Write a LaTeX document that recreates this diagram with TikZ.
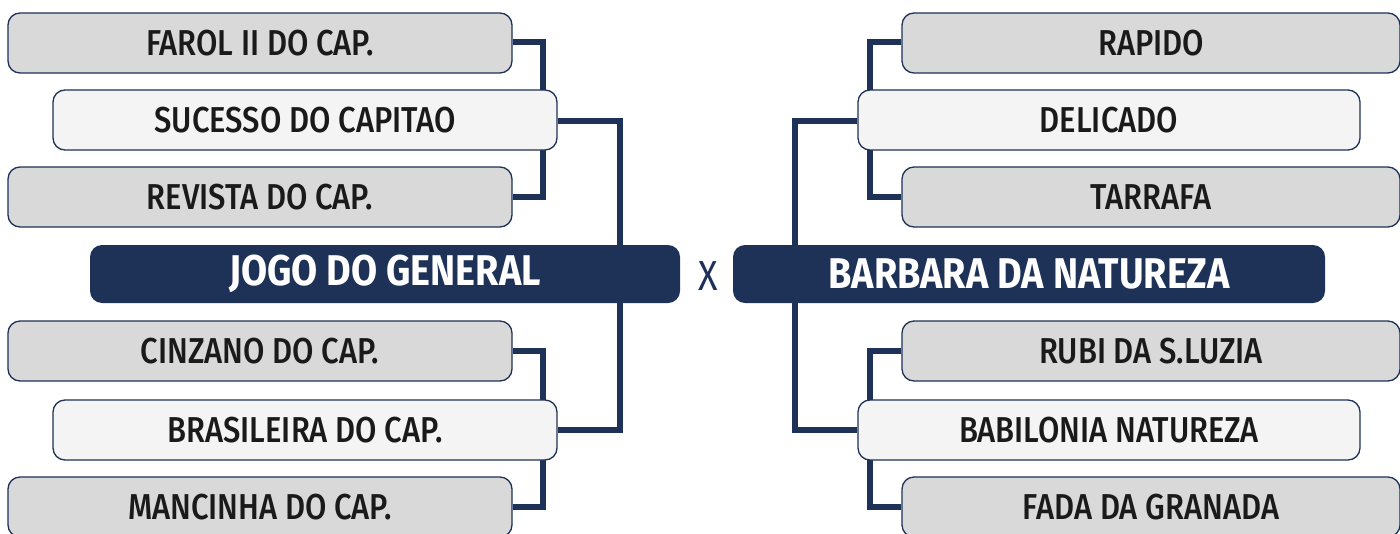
\documentclass[tikz,border=0pt]{standalone}
\usepackage{fontspec}
\usetikzlibrary{backgrounds}
\setmainfont{Fira Sans}[FakeStretch=0.86]
\newfontfamily\medfont{Fira Sans Medium}[FakeStretch=0.86]
\newfontfamily\boldfont{Fira Sans}[FakeStretch=0.88,BoldFont={Fira Sans Bold}]
\definecolor{navy}{HTML}{1E3157}
\definecolor{boxgray}{HTML}{D9D9D9}
\definecolor{boxlight}{HTML}{F4F4F4}
\definecolor{txt}{HTML}{1A1A1A}
\begin{document}
\begin{tikzpicture}[x=1pt,y=-1pt,
  entry/.style={draw=navy,line width=1.3pt,rounded corners=12pt,minimum height=60pt,
    inner sep=0pt,text=txt,font=\medfont\fontsize{36}{40}\selectfont},
  grayentry/.style={entry,fill=boxgray,minimum width=504pt},
  lightentry/.style={entry,fill=boxlight,minimum width=504pt},
  team/.style={fill=navy,rounded corners=12pt,minimum height=58pt,inner sep=0pt,
    text=white,font=\boldfont\bfseries\fontsize{43}{46}\selectfont},
  link/.style={draw=navy,line width=6pt}]
\useasboundingbox (0,0) rectangle (1400,533);
\coordinate (c1) at (543,42);
\coordinate (c2) at (543,197);
\coordinate (c3) at (620,121);
\coordinate (c4) at (620,430);
\coordinate (c5) at (543,351);
\coordinate (c6) at (543,507);
\coordinate (d1) at (870,42);
\coordinate (d2) at (870,197);
\coordinate (d3) at (795,121);
\coordinate (d4) at (795,430);
\coordinate (d5) at (870,351);
\coordinate (d6) at (870,507);
% nodes
\node[grayentry] (farol) at (260,43) {FAROL II DO CAP.};
\node[lightentry] (sucesso) at (305,120) {SUCESSO DO CAPITAO};
\node[grayentry] (revista) at (260,197) {REVISTA DO CAP.};
\node[grayentry] (cinzano) at (260,351) {CINZANO DO CAP.};
\node[lightentry] (brasileira) at (305,430) {BRASILEIRA DO CAP.};
\node[grayentry] (mancinha) at (260,507) {MANCINHA DO CAP.};
\node[grayentry,minimum width=498pt] (rapido) at (1151,43) {RAPIDO};
\node[lightentry,minimum width=502pt] (delicado) at (1109,120) {DELICADO};
\node[grayentry,minimum width=498pt] (tarrafa) at (1151,197) {TARRAFA};
\node[grayentry,minimum width=498pt] (rubi) at (1151,351) {RUBI DA S.LUZIA};
\node[lightentry,minimum width=502pt] (babilonia) at (1109,430) {BABILONIA NATUREZA};
\node[grayentry,minimum width=498pt] (fada) at (1151,507) {FADA DA GRANADA};
\node[team,minimum width=590pt] (jogo) at (385,274) {JOGO DO GENERAL};
\node[team,minimum width=592pt] (barbara) at (1029,274) {BARBARA DA NATUREZA};
\node[text=navy,font=\fontsize{42}{46}\selectfont,inner sep=0pt] (vs) at (708,276) {X};
% connectors (behind boxes)
\begin{scope}[on background layer]
\draw[link] (farol.east |- c1) -- (c1) -- (c2) -- (revista.east);
\draw[link] (sucesso.east |- c3) -- (c3) -- (c4) -- (brasileira.east);
\draw[link] (cinzano.east) -- (c5) -- (c6) -- (mancinha.east);
\draw[link] (rapido.west |- d1) -- (d1) -- (d2) -- (tarrafa.west);
\draw[link] (delicado.west |- d3) -- (d3) -- (d4) -- (babilonia.west);
\draw[link] (rubi.west) -- (d5) -- (d6) -- (fada.west);
\end{scope}
\end{tikzpicture}
\end{document}
